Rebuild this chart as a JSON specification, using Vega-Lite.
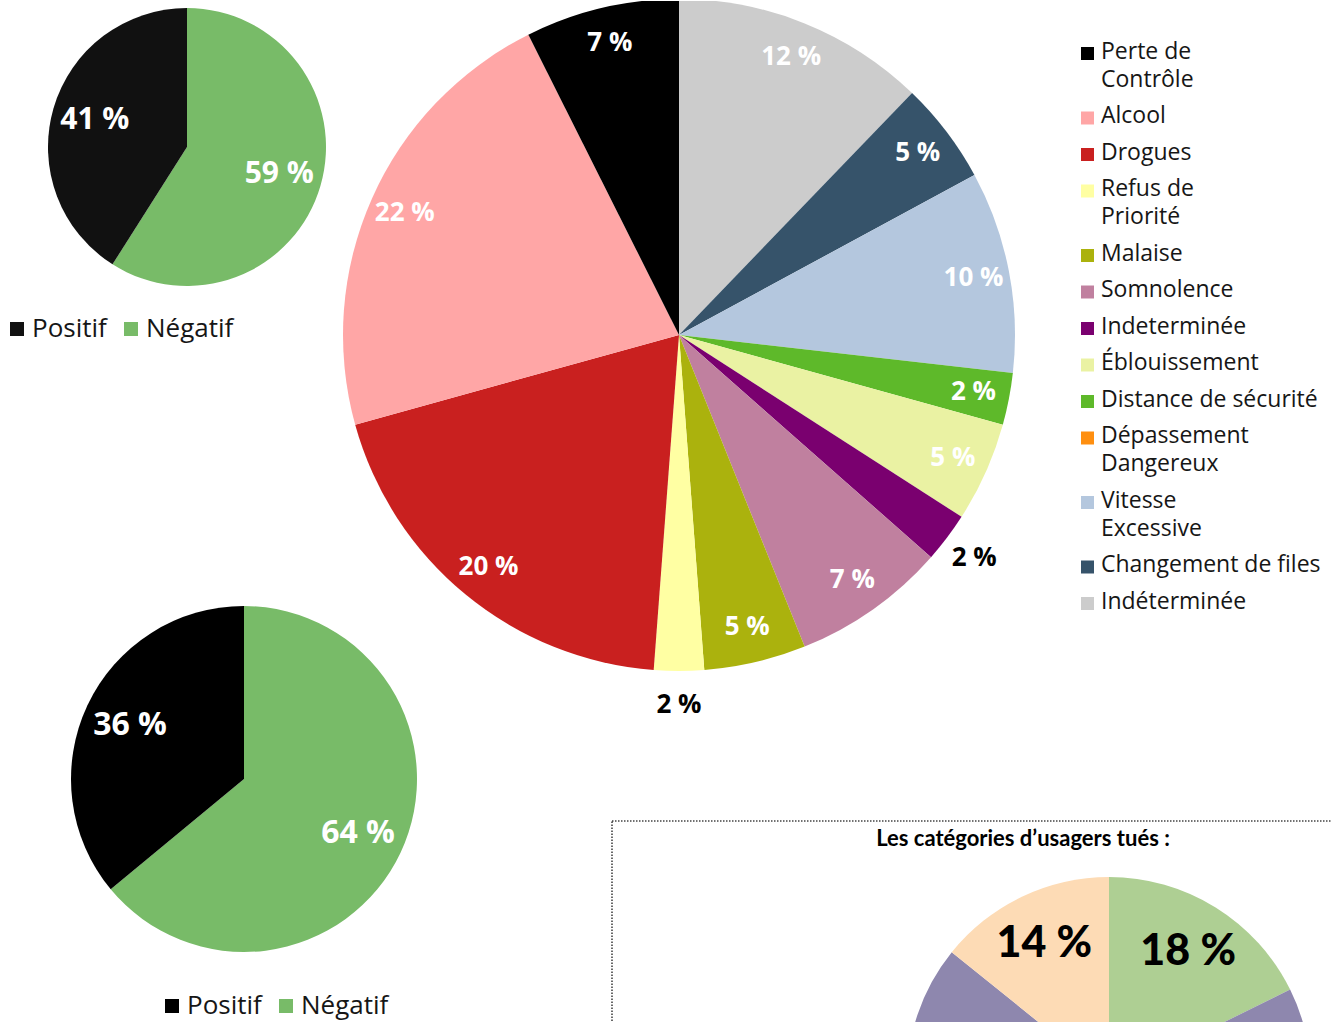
{
  "$schema": "https://vega.github.io/schema/vega-lite/v6.json",
  "width": 1331,
  "height": 1022,
  "autosize": {"type": "fit", "contains": "padding"},
  "padding": 0,
  "background": "white",
  "config": {"view": {"stroke": null}},
  "datasets": {
    "causes": [
      {"cause": "Indéterminée", "share": 12.2, "label": "12 %", "rank": 1},
      {"cause": "Changement de files", "share": 4.9, "label": "5 %", "rank": 2},
      {"cause": "Vitesse\nExcessive", "share": 9.7, "label": "10 %", "rank": 3},
      {"cause": "Dépassement\nDangereux", "share": 0, "label": "", "rank": 4},
      {"cause": "Distance de sécurité", "share": 2.5, "label": "2 %", "rank": 5},
      {"cause": "Éblouissement", "share": 4.8, "label": "5 %", "rank": 6},
      {"cause": "Indeterminée", "share": 2.4, "label": "2 %", "rank": 7},
      {"cause": "Somnolence", "share": 7.4, "label": "7 %", "rank": 8},
      {"cause": "Malaise", "share": 4.9, "label": "5 %", "rank": 9},
      {"cause": "Refus de\n\u00a0Priorité", "share": 2.4, "label": "2 %", "rank": 10},
      {"cause": "Drogues", "share": 19.5, "label": "20 %", "rank": 11},
      {"cause": "Alcool", "share": 21.9, "label": "22 %", "rank": 12},
      {"cause": "Perte de\nContrôle", "share": 7.4, "label": "7 %", "rank": 13}
    ],
    "alcool": [
      {"test": "Négatif", "share": 59, "label": "59 %", "rank": 1},
      {"test": "Positif", "share": 41, "label": "41 %", "rank": 2}
    ],
    "drogues": [
      {"test": "Négatif", "share": 64, "label": "64 %", "rank": 1},
      {"test": "Positif", "share": 36, "label": "36 %", "rank": 2}
    ],
    "usagers": [
      {"categorie": "Catégorie A", "share": 17.7, "label": "18 %", "rank": 1},
      {"categorie": "Autres", "share": 68.1, "label": "", "rank": 2},
      {"categorie": "Catégorie B", "share": 14.2, "label": "14 %", "rank": 3}
    ]
  },
  "layer": [
    {
      "data": {"values": [{}]},
      "mark": {"type": "rect", "x": 611, "y": 820, "x2": 1340, "y2": 1040, "fill": null, "stroke": "#444444", "strokeWidth": 1.6, "strokeDash": [1.5, 1.5], "clip": true},
      "encoding": {}
    },
    {
      "data": {"values": [{}]},
      "mark": {"type": "text", "x": 1022, "y": 838, "text": "Les catégories d’usagers tués :", "font": "Lato", "fontSize": 22, "fontWeight": "bold", "align": "center", "baseline": "middle", "fill": "#000000"},
      "encoding": {}
    },
    {
      "data": {"values": [{}]},
      "mark": {"type": "rule", "x": 313, "y": 201, "x2": 358, "y2": 226, "stroke": "#000000", "strokeWidth": 4},
      "encoding": {}
    },
    {
      "data": {"values": [{}]},
      "mark": {"type": "rule", "x": 334, "y": 632, "x2": 414, "y2": 541, "stroke": "#000000", "strokeWidth": 4},
      "encoding": {}
    },
    {
      "data": {"name": "causes"},
      "encoding": {
        "theta": {"field": "share", "type": "quantitative", "stack": true},
        "order": {"field": "rank", "type": "quantitative"}
      },
      "layer": [
        {
          "mark": {"type": "arc", "x": 678, "y": 334, "outerRadius": 336, "clip": true},
          "encoding": {
            "color": {
              "field": "cause",
              "type": "nominal",
              "scale": {
                "domain": ["Perte de\nContrôle", "Alcool", "Drogues", "Refus de\n\u00a0Priorité", "Malaise", "Somnolence", "Indeterminée", "Éblouissement", "Distance de sécurité", "Dépassement\nDangereux", "Vitesse\nExcessive", "Changement de files", "Indéterminée"],
                "range": ["#000000", "#FFA6A6", "#C9201F", "#FFFFA3", "#ABB20D", "#C0809F", "#7A006F", "#EAF2A3", "#5EB92A", "#FF8F10", "#B4C7DE", "#36536A", "#CCCCCC"]
              },
              "legend": {
                "orient": "none",
                "legendX": 1075,
                "legendY": 41,
                "title": null,
                "padding": 0,
                "symbolType": "square",
                "symbolSize": 169,
                "symbolStrokeWidth": 0,
                "symbolOpacity": 1,
                "labelFont": "Open Sans",
                "labelFontSize": 23,
                "labelColor": "#161616",
                "labelLimit": 400,
                "labelOffset": 2,
                "rowPadding": 12.5,
                "labelBaseline": "top",
                "labelExpr": "split(datum.label, '\\n')",
                "encode": {"labels": {"update": {"dy": {"value": -13}, "lineHeight": {"value": 28}}}}
              }
            }
          }
        },
        {
          "mark": {"type": "text", "x": 678, "y": 334, "radius": 300, "font": "Open Sans", "fontSize": 26, "fontWeight": "bold", "fill": "#ffffff", "baseline": "middle", "align": "center", "clip": true},
          "encoding": {
            "text": {"condition": {"test": "datum.rank == 7 || datum.rank == 10", "value": ""}, "field": "label"}
          }
        },
        {
          "mark": {"type": "text", "x": 678, "y": 334, "radius": 370, "font": "Open Sans", "fontSize": 26, "fontWeight": "bold", "fill": "#000000", "baseline": "middle", "align": "center", "clip": true},
          "encoding": {
            "text": {"condition": {"test": "datum.rank != 7 && datum.rank != 10", "value": ""}, "field": "label"}
          }
        }
      ]
    },
    {
      "data": {"name": "alcool"},
      "encoding": {
        "theta": {"field": "share", "type": "quantitative", "stack": true},
        "order": {"field": "rank", "type": "quantitative"}
      },
      "layer": [
        {
          "mark": {"type": "arc", "x": 186, "y": 146, "outerRadius": 139, "clip": true},
          "encoding": {
            "color": {
              "field": "test",
              "type": "nominal",
              "scale": {"domain": ["Positif", "Négatif"], "range": ["#111111", "#78BB68"]},
              "legend": {
                "orient": "none",
                "legendX": 3,
                "legendY": 315,
                "direction": "horizontal",
                "title": null,
                "padding": 0,
                "symbolType": "square",
                "symbolSize": 196,
                "symbolStrokeWidth": 0,
                "symbolOpacity": 1,
                "labelFont": "Open Sans",
                "labelFontSize": 26,
                "labelColor": "#161616",
                "labelOffset": 2,
                "columnPadding": 11
              }
            }
          }
        },
        {
          "mark": {"type": "text", "x": 186, "y": 146, "radius": 96, "font": "Open Sans", "fontSize": 30, "fontWeight": "bold", "fill": "#ffffff", "baseline": "middle", "align": "center", "clip": true},
          "encoding": {"text": {"field": "label"}}
        }
      ]
    },
    {
      "data": {"name": "drogues"},
      "encoding": {
        "theta": {"field": "share", "type": "quantitative", "stack": true},
        "order": {"field": "rank", "type": "quantitative"}
      },
      "layer": [
        {
          "mark": {"type": "arc", "x": 243, "y": 778, "outerRadius": 173, "clip": true},
          "encoding": {
            "color": {
              "field": "test",
              "type": "nominal",
              "scale": {"domain": ["Positif", "Négatif"], "range": ["#000000", "#78BB68"]},
              "legend": {
                "orient": "none",
                "legendX": 158,
                "legendY": 992,
                "direction": "horizontal",
                "title": null,
                "padding": 0,
                "symbolType": "square",
                "symbolSize": 196,
                "symbolStrokeWidth": 0,
                "symbolOpacity": 1,
                "labelFont": "Open Sans",
                "labelFontSize": 26,
                "labelColor": "#161616",
                "labelOffset": 2,
                "columnPadding": 11
              }
            }
          }
        },
        {
          "mark": {"type": "text", "x": 243, "y": 778, "radius": 126, "font": "Open Sans", "fontSize": 32, "fontWeight": "bold", "fill": "#ffffff", "baseline": "middle", "align": "center", "clip": true},
          "encoding": {"text": {"field": "label"}}
        }
      ]
    },
    {
      "data": {"name": "usagers"},
      "encoding": {
        "theta": {"field": "share", "type": "quantitative", "stack": true},
        "order": {"field": "rank", "type": "quantitative"}
      },
      "layer": [
        {
          "mark": {"type": "arc", "x": 1108, "y": 1078, "outerRadius": 202, "clip": true},
          "encoding": {
            "color": {
              "field": "categorie",
              "type": "nominal",
              "scale": {"domain": ["Catégorie A", "Autres", "Catégorie B"], "range": ["#AECF93", "#8E87AE", "#FDDBB5"]},
              "legend": null
            }
          }
        },
        {
          "mark": {"type": "text", "x": 1108, "y": 1078, "radius": 150, "font": "Lato", "fontSize": 43, "fontWeight": 900, "fill": "#000000", "baseline": "middle", "align": "center", "clip": true},
          "encoding": {"text": {"field": "label"}}
        }
      ]
    }
  ],
  "resolve": {"scale": {"color": "independent", "theta": "independent"}}
}
